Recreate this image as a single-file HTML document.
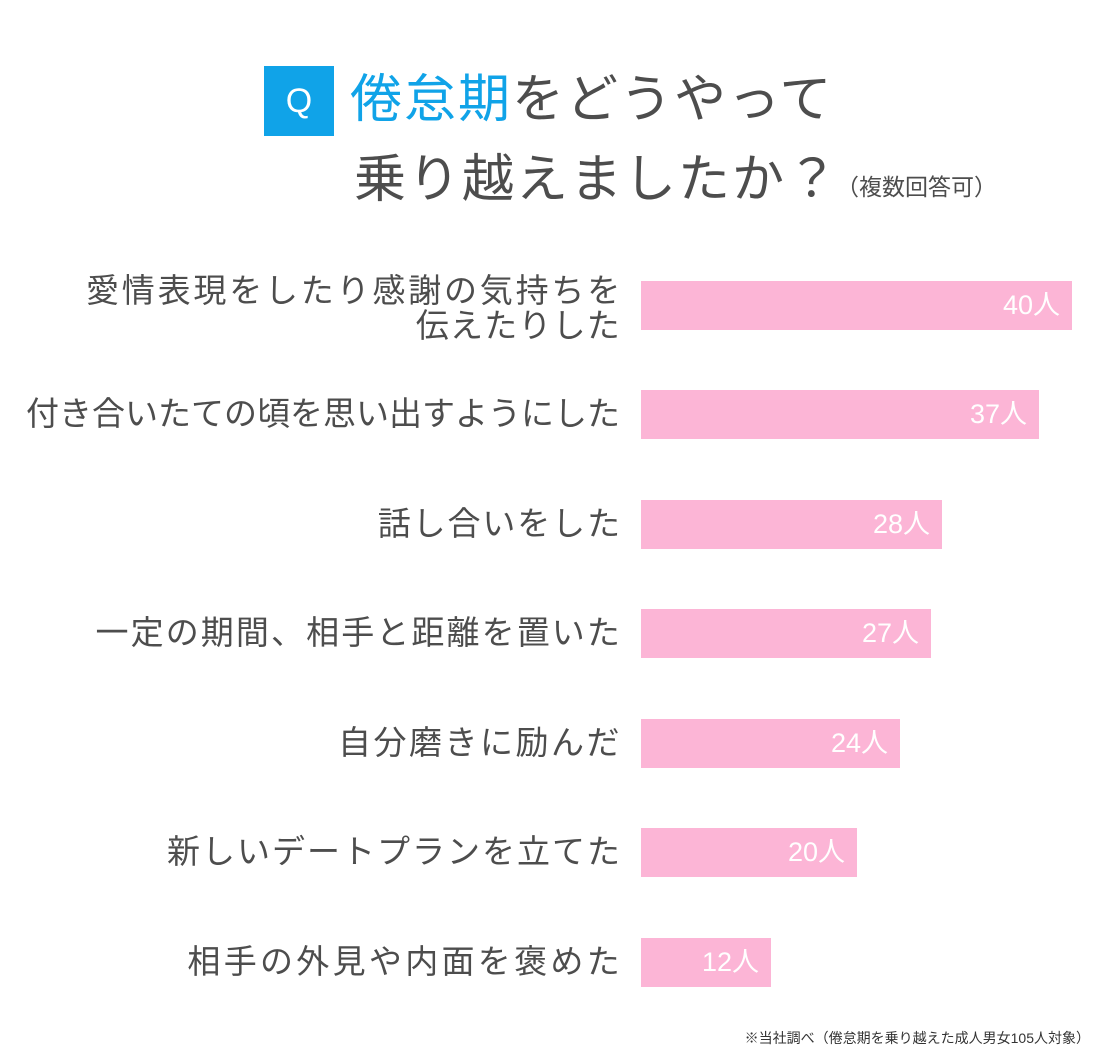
<!DOCTYPE html>
<html><head><meta charset="utf-8"><style>
body{margin:0;width:1100px;height:1055px;background:#fff;position:relative;overflow:hidden;font-family:"Liberation Sans","Noto Sans CJK JP",sans-serif;color:#4d4d4d}
.a{position:absolute;white-space:nowrap}
.q{left:264px;top:66px;width:70px;height:70px;background:#10a3e8;color:#fff;font-size:34px;line-height:70px;text-align:center}
.t{font-size:52px;line-height:60px;letter-spacing:2px}
.lab{font-size:33px;line-height:36px;text-align:right}
.bar{left:641px;height:49px;background:#fcb5d6;color:#fff;font-size:27px;line-height:49px;text-align:right;box-sizing:border-box;padding-right:12px}
</style></head><body>
<div class="a q">Q</div>
<div class="a t" style="left:350px;top:70px"><span style="color:#10a3e8">倦怠期</span>をどうやって</div>
<div class="a t" style="left:354px;top:150px">乗り越えましたか？</div>
<div class="a" style="left:836px;top:172px;font-size:23px;line-height:30px">（複数回答可）</div>

<div class="a lab" style="top:273px;right:477px;letter-spacing:2.8px">愛情表現をしたり感謝の気持ちを</div>
<div class="a lab" style="top:308px;right:479px;letter-spacing:1.2px">伝えたりした</div>
<div class="a bar" style="top:281px;width:431px">40人</div>
<div class="a lab" style="top:396px;right:480px">付き合いたての頃を思い出すようにした</div>
<div class="a bar" style="top:390px;width:398px">37人</div>
<div class="a lab" style="top:506px;right:478px;letter-spacing:1.9px">話し合いをした</div>
<div class="a bar" style="top:500px;width:301px">28人</div>
<div class="a lab" style="top:615px;right:478px;letter-spacing:2.1px">一定の期間、相手と距離を置いた</div>
<div class="a bar" style="top:609px;width:290px">27人</div>
<div class="a lab" style="top:725px;right:478px;letter-spacing:2.5px">自分磨きに励んだ</div>
<div class="a bar" style="top:719px;width:259px">24人</div>
<div class="a lab" style="top:834px;right:478px;letter-spacing:2px">新しいデートプランを立てた</div>
<div class="a bar" style="top:828px;width:216px">20人</div>
<div class="a lab" style="top:944px;right:477px;letter-spacing:3.3px">相手の外見や内面を褒めた</div>
<div class="a bar" style="top:938px;width:130px">12人</div>

<div class="a" style="right:10px;top:1028px;font-size:14px;color:#333">※当社調べ（倦怠期を乗り越えた成人男女105人対象）</div>
</body></html>
